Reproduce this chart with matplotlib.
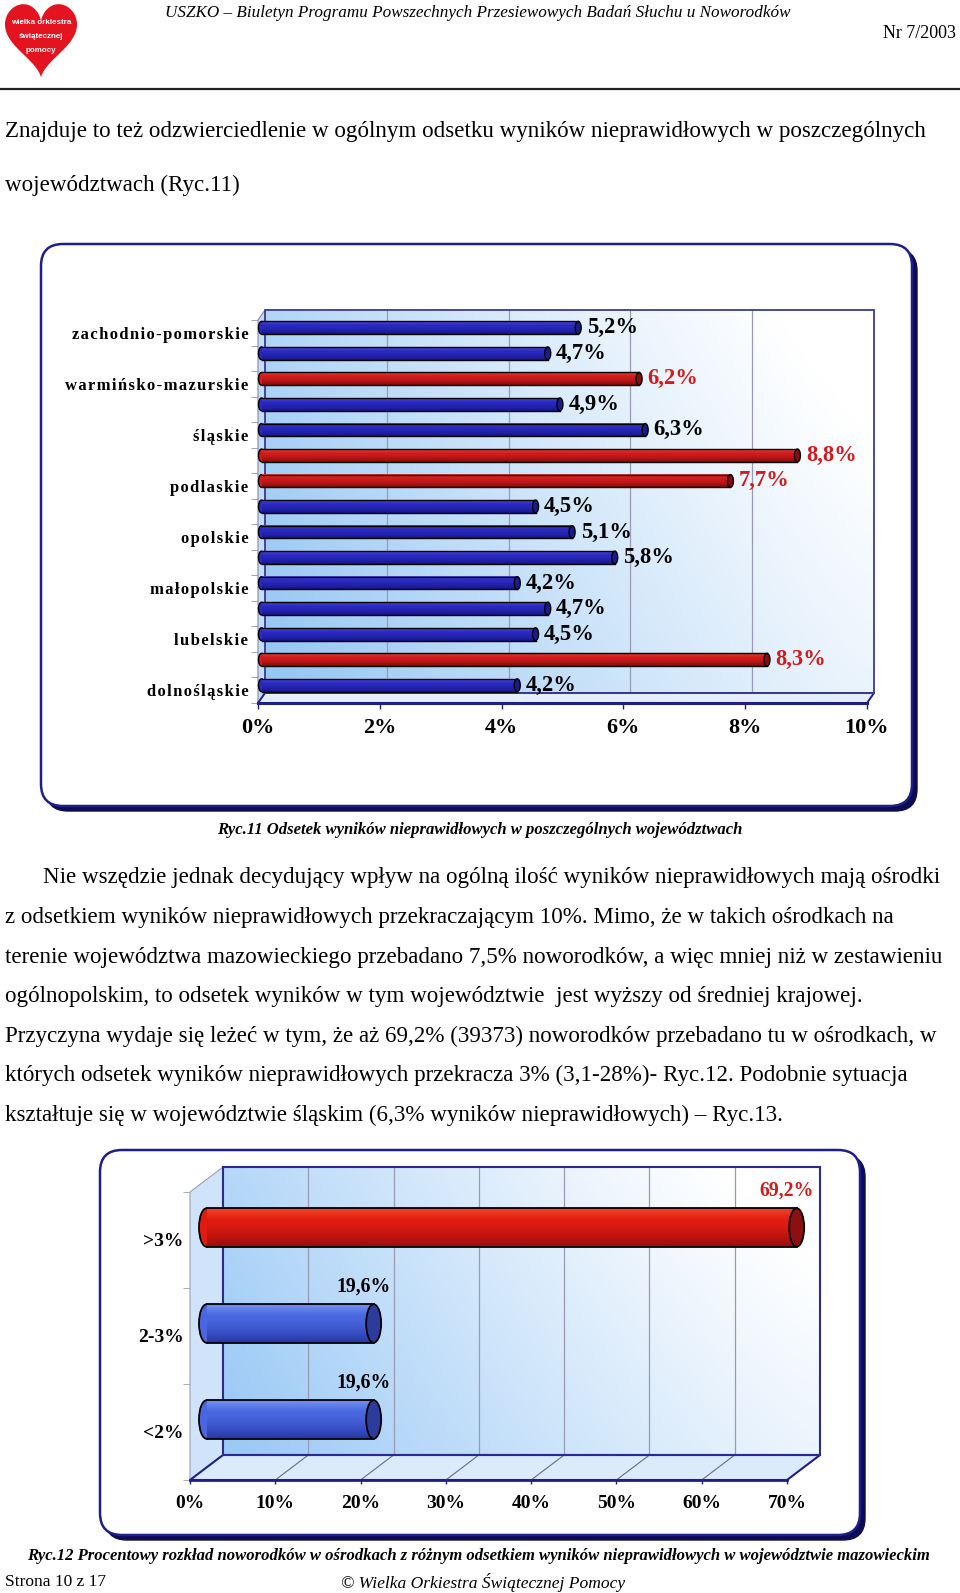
import numpy as np
import matplotlib.pyplot as plt
from matplotlib.patches import FancyBboxPatch, Ellipse, Polygon, Rectangle
from matplotlib.colors import to_rgb

# Ryc.11 - odsetek wynikow nieprawidlowych (od dolu wykresu)
regions = ['dolnośląskie', 'kujawsko-pomorskie', 'lubelskie', 'lubuskie',
           'małopolskie', 'mazowieckie', 'opolskie', 'podkarpackie',
           'podlaskie', 'pomorskie', 'śląskie', 'świętokrzyskie',
           'warmińsko-mazurskie', 'wielkopolskie', 'zachodnio-pomorskie']
rates = [4.2, 8.3, 4.5, 4.7, 4.2, 5.8, 5.1, 4.5, 7.7, 8.8, 6.3, 4.9, 6.2, 4.7, 5.2]
flagged = [False, True, False, False, False, False, False, False,
           True, True, False, False, True, False, False]
rate_ticks = [0, 2, 4, 6, 8, 10]

# Ryc.12 - mazowieckie
bands = ['<2%', '2-3%', '>3%']
shares = [19.6, 19.6, 69.2]
band_flag = [False, False, True]
share_ticks = [0, 10, 20, 30, 40, 50, 60, 70]

W, H = 960, 1593
SERIF = ['Liberation Serif', 'DejaVu Serif']
NAVY = '#1e1e8c'
RED_TXT = '#d41a1a'

fig = plt.figure(figsize=(W / 100, H / 100), dpi=100)
fig.patch.set_facecolor('white')
page = fig.add_axes([0, 0, 1, 1], zorder=0)
page.set_xlim(0, W)
page.set_ylim(H, 0)
page.axis('off')


def pct(v):
    return ('%.1f' % v).replace('.', ',') + '%'


def box_axes(l, t, r, b):
    a = fig.add_axes([l / W, 1 - b / H, (r - l) / W, (b - t) / H], zorder=2)
    a.patch.set_alpha(0)
    for s in a.spines.values():
        s.set_visible(False)
    return a


def frame(x0, y0, x1, y1):
    page.add_patch(FancyBboxPatch((x0 + 5, y0 + 5), x1 - x0, y1 - y0,
                                  boxstyle='round,pad=0,rounding_size=22',
                                  fc='#0c0c50', ec='#0c0c50', lw=1, zorder=1))
    page.add_patch(FancyBboxPatch((x0, y0), x1 - x0, y1 - y0,
                                  boxstyle='round,pad=0,rounding_size=22',
                                  fc='white', ec=NAVY, lw=1.8, zorder=2))


def wall(ax, x0, x1, y0, y1, blue='#98c8f4'):
    n = 160
    X, Y = np.meshgrid(np.linspace(0, 1, n), np.linspace(1, 0, n))
    t = np.clip(0.85 * (1 - X) ** 1.2 + 0.30 * (1 - Y) - 0.1, 0, 1)
    b = np.array(to_rgb(blue))
    rgb = (1 - t)[..., None] * np.ones(3) + t[..., None] * b
    im = ax.imshow(rgb, extent=(x0, x1, y0, y1), aspect='auto', zorder=1,
                   interpolation='bilinear')
    im.set_clip_on(False)


def cylinder(ax, x0, x1, yc, h, cols, cap_w, lw=1.0):
    top, mid, bot, cap = [np.array(to_rgb(c)) for c in cols]
    s = np.linspace(0, 1, 50)[:, None]
    g = np.where(s < 0.3, top + (mid - top) * (s / 0.3),
                 mid + (bot - mid) * np.clip((s - 0.3) / 0.7, 0, 1) ** 1.5)
    ax.add_patch(Ellipse((x0, yc), cap_w, h, fc=mid, ec='black', lw=lw,
                         zorder=3, clip_on=False))
    im = ax.imshow(g[:, None, :], extent=(x0, x1, yc - h / 2, yc + h / 2),
                   aspect='auto', zorder=4, interpolation='bilinear')
    im.set_clip_on(False)
    ax.plot([x0, x1], [yc + h / 2] * 2, color='black', lw=lw, zorder=5, clip_on=False)
    ax.plot([x0, x1], [yc - h / 2] * 2, color='black', lw=lw, zorder=5, clip_on=False)
    ax.add_patch(Ellipse((x1, yc), cap_w, h, fc=cap, ec='black', lw=lw,
                         zorder=6, clip_on=False))


# ---------------- header ----------------
t = np.linspace(0, 2 * np.pi, 300)
hx = 16 * np.sin(t) ** 3
hy = 13 * np.cos(t) - 5 * np.cos(2 * t) - 2 * np.cos(3 * t) - np.cos(4 * t)
page.add_patch(Polygon(np.column_stack([41 + 2.25 * hx, 4 + (12 - hy) * 2.55]),
                       fc='#e3141f', ec='none', zorder=3))
for txt, yy in [('wielka orkiestra', 23), ('świątecznej', 36), ('pomocy', 50)]:
    page.text(41, yy, txt, ha='center', va='center', color='white', fontsize=5.8,
              fontweight='bold', family='Liberation Sans', zorder=4)

page.text(478, 13, 'USZKO – Biuletyn Programu Powszechnych Przesiewowych Badań Słuchu u Noworodków',
          ha='center', va='center', fontsize=12.3, style='italic', family=SERIF)
page.text(956, 34, 'Nr 7/2003', ha='right', va='center', fontsize=13, family=SERIF)
page.plot([0, W], [89, 89], color='#222222', lw=1.6)

body = 16.6
page.text(5, 131, 'Znajduje to też odzwierciedlenie w ogólnym odsetku wyników '
          'nieprawidłowych w poszczególnych', ha='left', va='center',
          fontsize=body, family=SERIF)
page.text(5, 185, 'województwach (Ryc.11)', ha='left', va='center',
          fontsize=body, family=SERIF)

# ---------------- Ryc.11 ----------------
frame(41, 244, 912, 806)
ax1 = box_axes(258, 320, 867, 703)
n1 = len(regions)
ux1 = (867 - 258) / 10
uy1 = (703 - 320) / n1
dx1, dy1 = 7 / ux1, 10 / uy1
ylo, yhi = -0.5, n1 - 0.5

wall(ax1, dx1, 10 + dx1, ylo + dy1, yhi + dy1)
for g in rate_ticks[1:-1]:
    ax1.plot([g + dx1] * 2, [ylo + dy1, yhi + dy1], color='#9a9ab4', lw=0.9,
             zorder=1.5, clip_on=False)
ax1.add_patch(Rectangle((dx1, ylo + dy1), 10, n1, fill=False, ec='#3c3c96',
                        lw=1.3, zorder=2, clip_on=False))
ax1.add_patch(Polygon([(0, ylo), (0, yhi), (dx1, yhi + dy1), (dx1, ylo + dy1)],
                      fc='#c4ddf6', ec='#8a8aaa', lw=0.8, zorder=1.6, clip_on=False))
ax1.add_patch(Polygon([(0, ylo), (10, ylo), (10 + dx1, ylo + dy1), (dx1, ylo + dy1)],
                      fc='#e4effb', ec=NAVY, lw=1.4, zorder=1.7, clip_on=False))
ax1.plot([0, 10], [ylo, ylo], color=NAVY, lw=2.2, zorder=2, clip_on=False)

blue1 = ['#4c4ce0', '#2a2ac2', '#16168a', '#1c1c88']
red1 = ['#f04036', '#d21c1c', '#860c0c', '#8a0c0c']
for i, (v, f) in enumerate(zip(rates, flagged)):
    yc = i + dy1 / 2
    cylinder(ax1, dx1 / 2, v + dx1 / 2, yc, 0.5, red1 if f else blue1, 6 / ux1)
    ax1.annotate(pct(v), (v, yc), xytext=(12, 0), textcoords='offset pixels',
                 ha='left', va='center', fontsize=16.3, fontweight='bold',
                 family=SERIF, color=RED_TXT if f else 'black', zorder=8,
                 annotation_clip=False)

ax1.set_xlim(0, 10)
ax1.set_ylim(ylo, yhi)
ax1.set_xticks(rate_ticks, ['%d%%' % v for v in rate_ticks])
ax1.tick_params(axis='x', length=4, width=1, color=NAVY, pad=7, labelsize=16)
shown = list(range(0, n1, 2))
ax1.set_yticks(shown, ['\u200a'.join(regions[i]) for i in shown])
ax1.set_yticks(np.arange(ylo, yhi + 0.1, 1), minor=True)
ax1.tick_params(axis='y', which='major', length=0, pad=7, labelsize=12)
ax1.tick_params(axis='y', which='minor', length=5, color='#9090a8')
for lbl in ax1.get_xticklabels() + ax1.get_yticklabels():
    lbl.set_fontweight('bold')
    lbl.set_family(SERIF)

page.text(480, 830, 'Ryc.11 Odsetek wyników nieprawidłowych w poszczególnych województwach',
          ha='center', va='center', fontsize=12, style='italic', fontweight='bold',
          family=SERIF)

# ---------------- text ----------------
para = [
    'Nie wszędzie jednak decydujący wpływ na ogólną ilość wyników nieprawidłowych mają ośrodki',
    'z odsetkiem wyników nieprawidłowych przekraczającym 10%. Mimo, że w takich ośrodkach na',
    'terenie województwa mazowieckiego przebadano 7,5% noworodków, a więc mniej niż w zestawieniu',
    'ogólnopolskim, to odsetek wyników w tym województwie  jest wyższy od średniej krajowej.',
    'Przyczyna wydaje się leżeć w tym, że aż 69,2% (39373) noworodków przebadano tu w ośrodkach, w',
    'których odsetek wyników nieprawidłowych przekracza 3% (3,1-28%)- Ryc.12. Podobnie sytuacja',
    'kształtuje się w województwie śląskim (6,3% wyników nieprawidłowych) – Ryc.13.',
]
for k, line in enumerate(para):
    page.text(43 if k == 0 else 5, 878 + 39.5 * k, line, ha='left', va='center',
              fontsize=body, family=SERIF)

# ---------------- Ryc.12 ----------------
frame(100, 1150, 860, 1535)
ax2 = box_axes(190, 1192, 787, 1480)
n2 = len(bands)
ux2 = (787 - 190) / 70
uy2 = (1480 - 1192) / n2
dx2, dy2 = 33 / ux2, 25 / uy2
zlo, zhi = -0.5, n2 - 0.5

wall(ax2, dx2, 70 + dx2, zlo + dy2, zhi + dy2, blue='#9ccaf6')
for g in share_ticks[1:-1]:
    ax2.plot([g + dx2] * 2, [zlo + dy2, zhi + dy2], color='#9a9ab4', lw=0.9,
             zorder=1.5, clip_on=False)
    ax2.plot([g, g + dx2], [zlo, zlo + dy2], color='#6a6a8a', lw=0.8, zorder=1.8,
             clip_on=False)
ax2.add_patch(Rectangle((dx2, zlo + dy2), 70, n2, fill=False, ec='#2a2a90',
                        lw=1.5, zorder=2, clip_on=False))
ax2.add_patch(Polygon([(0, zlo), (0, zhi), (dx2, zhi + dy2), (dx2, zlo + dy2)],
                      fc='#cfe4fa', ec='#a0a0b4', lw=0.8, zorder=1.6, clip_on=False))
ax2.add_patch(Polygon([(0, zlo), (70, zlo), (70 + dx2, zlo + dy2), (dx2, zlo + dy2)],
                      fc='#dcebfc', ec=NAVY, lw=1.5, zorder=1.7, clip_on=False))
ax2.plot([0, 70], [zlo, zlo], color=NAVY, lw=2.0, zorder=2, clip_on=False)

blue2 = ['#7290f2', '#4a66e0', '#2436a4', '#2c3c9c']
red2 = ['#f4442a', '#e01c10', '#9a0c0c', '#8c1010']
for i, (v, f) in enumerate(zip(shares, band_flag)):
    yc = i + dy2 / 2
    cylinder(ax2, dx2 / 2, v + dx2 / 2, yc, 0.40, red2 if f else blue2, 15 / ux2,
             lw=1.3)
    ax2.annotate(pct(v), (v, yc), xytext=(6, 37), textcoords='offset pixels',
                 ha='center', va='center', fontsize=14.2, fontweight='bold',
                 family=SERIF, color=RED_TXT if f else 'black', zorder=8,
                 annotation_clip=False)

ax2.set_xlim(0, 70)
ax2.set_ylim(zlo, zhi)
ax2.set_xticks(share_ticks, ['%d%%' % v for v in share_ticks])
ax2.tick_params(axis='x', length=3, width=1, color=NAVY, pad=8, labelsize=14)
ax2.set_yticks(range(n2), bands)
ax2.set_yticks(np.arange(zlo, zhi + 0.1, 1), minor=True)
ax2.tick_params(axis='y', which='major', length=0, pad=4.5, labelsize=14)
ax2.tick_params(axis='y', which='minor', length=5, color='#a0a0b0')
for lbl in ax2.get_xticklabels() + ax2.get_yticklabels():
    lbl.set_fontweight('bold')
    lbl.set_family(SERIF)

page.text(27, 1556, 'Ryc.12 Procentowy rozkład noworodków w ośrodkach z różnym odsetkiem '
          'wyników nieprawidłowych w województwie mazowieckim',
          ha='left', va='center', fontsize=12, style='italic', fontweight='bold',
          family=SERIF)

# ---------------- footer ----------------
page.text(5, 1582, 'Strona 10 z 17', ha='left', va='center', fontsize=12.5, family=SERIF)
page.text(483, 1582, '© Wielka Orkiestra Świątecznej Pomocy', ha='center', va='center',
          fontsize=12.6, style='italic', family=SERIF)

fig.savefig('out.png', dpi=100, facecolor='white')
